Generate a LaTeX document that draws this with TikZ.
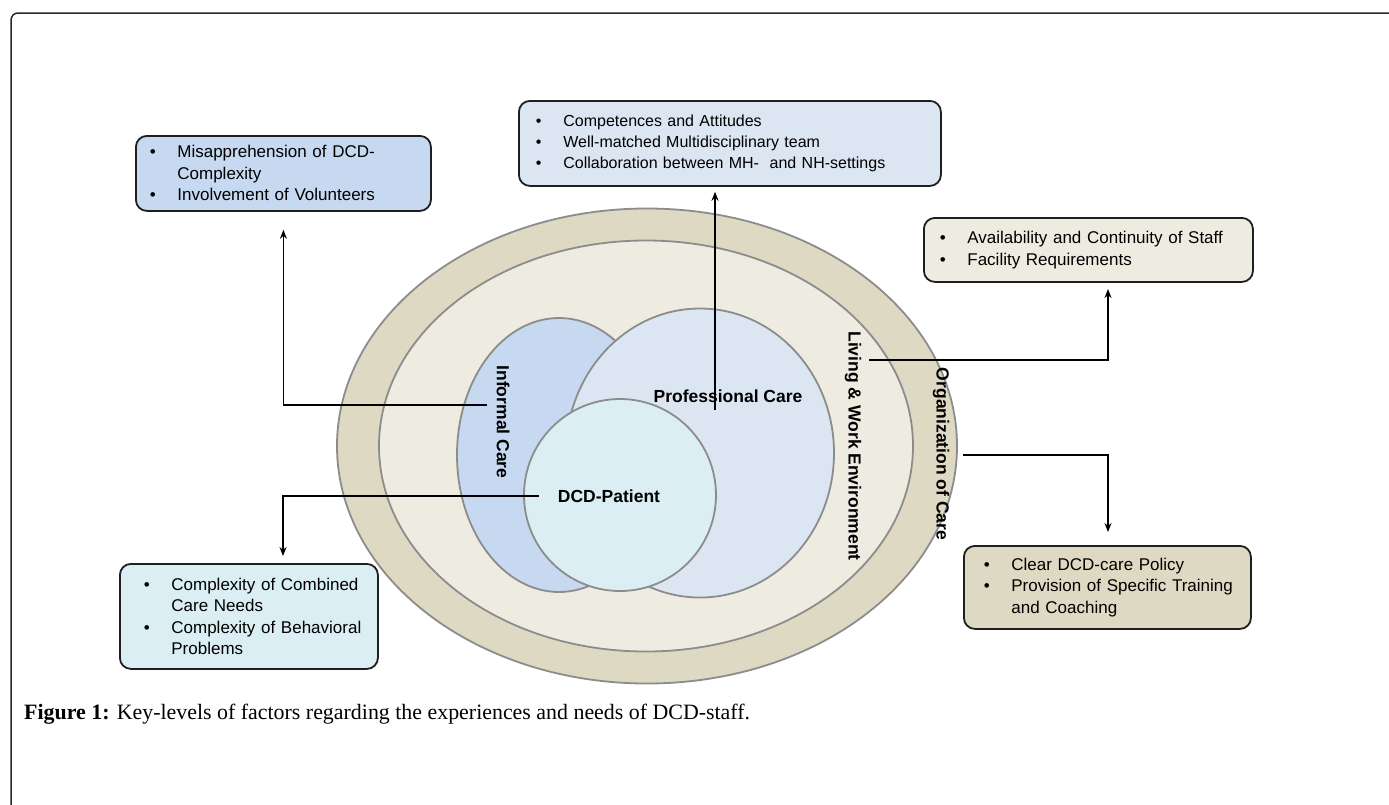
\documentclass[tikz,border=0pt]{standalone}
\usepackage{fontspec}
\setmainfont{Liberation Serif}
\newfontfamily\arialf{Liberation Sans}
\usetikzlibrary{shapes.geometric,arrows.meta,calc}
\definecolor{orgfill}{HTML}{DDD9C3}
\definecolor{livfill}{HTML}{EEECE1}
\definecolor{inffill}{HTML}{C6D9F1}
\definecolor{profill}{HTML}{DCE6F2}
\definecolor{dcdfill}{HTML}{DBEEF4}
\definecolor{rim}{HTML}{8C8C8C}
\newcommand\bul[1]{\makebox[27.5pt][l]{•}\mbox{#1}}
\newcommand\ind[1]{\hspace*{27.5pt}\mbox{#1}}
\begin{document}
\begin{tikzpicture}[x=1pt,y=-1pt,
 ring/.style={ellipse, draw=rim, line width=1.8pt, inner sep=0pt},
 lbl/.style={font=\arialf\bfseries\fontsize{17.5}{20}\selectfont, inner sep=0pt},
 infobox/.style={draw=black!88, line width=1.8pt, rounded corners=11pt, anchor=north west, inner ysep=0pt, align=left, font=\arialf\fontsize{17}{21.5}\selectfont},
 conn/.style={line width=1.8pt, -{Stealth[length=9pt,width=7pt]}}
]
\useasboundingbox (0,0) rectangle (1389,804);
% frame
\draw[line width=1.5pt, draw=black!85, rounded corners=7pt] (11,815) -- (11,13) -- (1400,13);
% rings
\node[ring, fill=orgfill, minimum width=620pt, minimum height=475pt] (org) at (647,446) {};
\node[ring, fill=livfill, minimum width=534pt, minimum height=411pt] (liv) at (646,446) {};
\node[ring, fill=inffill, minimum width=204pt, minimum height=274pt] (inf) at (559,455) {};
\node[ring, fill=profill, minimum width=268pt, minimum height=289pt] (pro) at (700,453) {};
\node[ring, fill=dcdfill, minimum width=192pt, minimum height=192pt] (dcd) at (620,495) {};
% labels
\node[lbl, rotate=-90] (inflbl) at (503,422) {Informal Care};
\node[lbl] (prolbl) at (728,396) {Professional Care};
\node[lbl] (dcdlbl) at (609,496) {DCD-Patient};
\node[lbl, rotate=-90] (livlbl) at (853,446) {Living \& Work Environment};
\node[lbl, rotate=-90] (orglbl) at (941,454) {Organization of Care};
% boxes
\node[infobox, fill=inffill, inner xsep=14pt, text width=267pt, minimum height=75pt] (b1) at (135,135)
 {\bul{Misapprehension of DCD-}\\\ind{Complexity}\\\bul{Involvement of Volunteers}};
\node[infobox, fill=profill, inner xsep=17pt, text width=388pt, minimum height=85pt, font=\arialf\fontsize{16}{21}\selectfont] (b2) at (518,100)
 {\bul{Competences and Attitudes}\\\bul{Well-matched Multidisciplinary team}\\\bul{Collaboration between MH-~ and NH-settings}};
\node[infobox, fill=livfill, inner xsep=16pt, text width=297pt, minimum height=64pt] (b3) at (923,217)
 {\bul{Availability and Continuity of Staff}\\\bul{Facility Requirements}};
\node[infobox, fill=dcdfill, inner xsep=24pt, text width=210pt, minimum height=105pt] (b4) at (119,563)
 {\bul{Complexity of Combined}\\\ind{Care Needs}\\\bul{Complexity of Behavioral}\\\ind{Problems}};
\node[infobox, fill=orgfill, inner xsep=20pt, text width=247pt, minimum height=83pt] (b5) at (963,545)
 {\bul{Clear DCD-care Policy}\\\bul{Provision of Specific Training}\\\ind{and Coaching}};
% connectors
\coordinate (infS) at (487,405);
\coordinate (proS) at (715,410);
\coordinate (livS) at (869,360);
\coordinate (livT) at (1108,289);
\coordinate (orgS) at (963,455);
\coordinate (orgT) at (1108,532);
\coordinate (dcdS) at (539,496);
\coordinate (dcdT) at (283,556);
\draw[conn, shorten >=18pt] (infS) -| (b1.south);
\draw[conn, shorten >=5pt] (proS) -- (proS |- b2.south);
\draw[conn] (livS) -| (livT);
\draw[conn] (orgS) -| (orgT);
\draw[conn] (dcdS) -| (dcdT);
% caption
\node[anchor=base west, inner sep=0pt, font=\fontsize{21.9}{26}\selectfont] (cap) at (24,719)
 {\textbf{Figure 1:} Key-levels of factors regarding the experiences and needs of DCD-staff.};
\end{tikzpicture}
\end{document}
